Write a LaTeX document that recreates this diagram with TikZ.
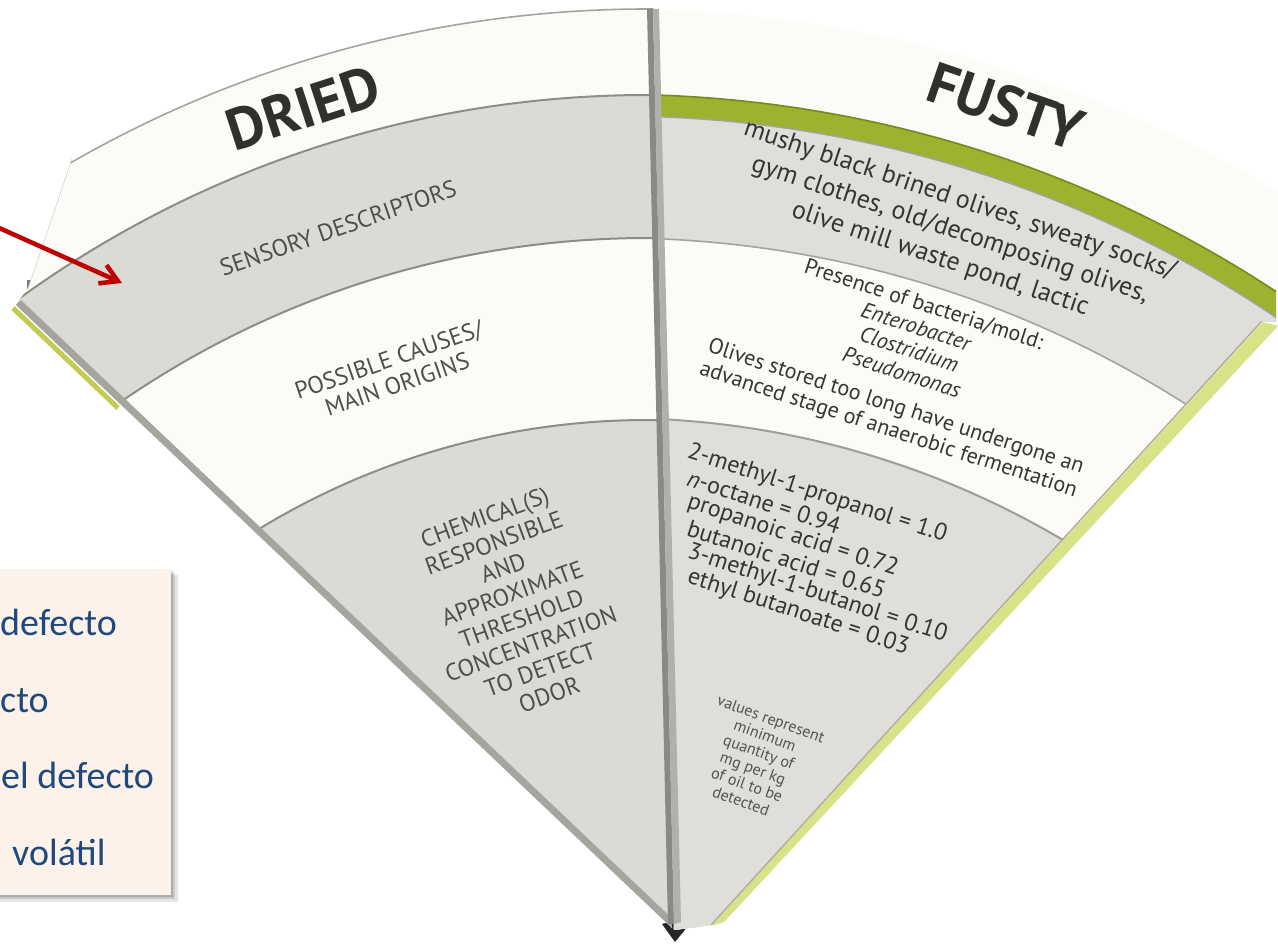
\documentclass[tikz,border=0pt]{standalone}
\usepackage{fontspec}
\setmainfont{PT Sans}
\newfontfamily\notefont{Carlito}
\usetikzlibrary{arrows.meta}

\definecolor{bandgray}{HTML}{DCDAD5}
\definecolor{bandgrayR}{HTML}{DFDEDA}
\definecolor{cardwhite}{HTML}{FCFBF8}
\definecolor{arcline}{HTML}{8E8C87}
\definecolor{arclineR}{HTML}{A5A39E}
\definecolor{olive}{HTML}{9DB22F}
\definecolor{olivedark}{HTML}{76891F}
\definecolor{lime}{HTML}{D8E387}
\definecolor{limeL}{HTML}{C3CB52}
\definecolor{edgegray}{HTML}{A6A49F}
\definecolor{divdark}{HTML}{8B8986}
\definecolor{divlight}{HTML}{B2B0AC}
\definecolor{inkL}{HTML}{4F4E4C}
\definecolor{inkR}{HTML}{363533}
\definecolor{notebg}{HTML}{FDF2EA}
\definecolor{noteink}{HTML}{1F497D}
\definecolor{pointer}{HTML}{C00000}

\tikzset{
  title/.style={text=inkR!90!black, font=\bfseries\fontsize{58}{60}\selectfont, inner sep=0pt},
  lbl/.style={text=inkL, font=\fontsize{24}{26}\selectfont, align=center, inner sep=0pt},
  desc/.style={text=inkR, font=\fontsize{26}{31}\selectfont, align=center, inner sep=0pt},
  cause/.style={text=inkR, font=\fontsize{22}{24}\selectfont, align=center, inner sep=0pt},
  chem/.style={text=inkR, font=\fontsize{24}{25}\selectfont, inner sep=0pt, anchor=west, rotate=-18},
  small/.style={text=inkR!85, font=\fontsize{16}{17.5}\selectfont, align=center, inner sep=0pt},
  notetext/.style={text=noteink, font=\notefont\fontsize{38}{40}\selectfont, inner sep=0pt, anchor=base west},
  pointerarrow/.style={draw=pointer, line width=4.5pt, -{Straight Barb[length=17pt,width=20pt]}},
}

\begin{document}
\begin{tikzpicture}[x=1pt,y=-1pt]
\useasboundingbox (0,0) rectangle (1278,944);
\fill[white] (0,0) rectangle (1278,944);

% centres of the printed arcs of the two cards
\coordinate (LC) at (648,1168);
\coordinate (RC) at (616,1297);

% cards lying underneath
\fill[divdark!90!black] (27,280) rectangle (38,297);
\draw[limeL, line width=5pt] (13,308) -- (118,408);
\fill[lime] (1263,322) -- (1278,326) -- (724,922) -- (711,926) -- cycle;
\fill[black!85] (662,924) -- (697,915) -- (675,942) -- cycle;

% left card
\begin{scope}
  \clip (672,928) -- (16,305) -- (28,288) -- (72,158) -- (72,-5) -- (653,-5) -- cycle;
  \fill[cardwhite] (LC) circle[radius=1159pt];
  \fill[bandgray] (LC) circle[radius=1073pt];
  \fill[cardwhite] (LC) circle[radius=930pt];
  \fill[bandgray] (LC) circle[radius=748pt];
  \draw[arcline!80, line width=1.6pt] (LC) circle[radius=1159pt];
  \draw[arcline, line width=2pt] (LC) circle[radius=1073pt];
  \draw[arcline, line width=2pt] (LC) circle[radius=930pt];
  \draw[arcline, line width=2pt] (LC) circle[radius=748pt];
  \draw[edgegray, line width=14pt] (16,305) -- (672,928);
  \draw[cardwhite!60!arcline, line width=1pt] (28,288) -- (72,158);
\end{scope}

% right card
\begin{scope}
  \clip (653,-5) -- (1290,-5) -- (1290,282) -- (1276,288) -- (1276,322)
        -- (1262,322) -- (712,925) -- (674,930) -- cycle;
  \fill[cardwhite] (RC) circle[radius=1288pt];
  \fill[olive] (RC) circle[radius=1202.6pt];
  \fill[bandgrayR] (RC) circle[radius=1181pt];
  \fill[cardwhite] (RC) circle[radius=1059pt];
  \fill[bandgrayR] (RC) circle[radius=879pt];
  \draw[olivedark, line width=1.6pt] (RC) circle[radius=1202.6pt];
  \draw[arclineR, line width=1.5pt] (RC) circle[radius=1181pt];
  \draw[arclineR, line width=1.6pt] (RC) circle[radius=1059pt];
  \draw[arcline!85, line width=2pt] (RC) circle[radius=879pt];
  \draw[edgegray!80!lime, line width=3pt] (1262,322) -- (712,925);
\end{scope}

% divider between the cards
\fill[divdark] (647,9) -- (653,9) -- (674,924) -- (668,924) -- cycle;
\fill[divlight] (653,9) -- (659,9) -- (681,922) -- (674,924) -- cycle;

% left card texts
\node[title, rotate=18] (dried) at (303,108) {DRIED};
\node[lbl, rotate=19] (sens) at (338,228) {SENSORY DESCRIPTORS};
\node[lbl, rotate=19] (causes) at (393,372) {POSSIBLE CAUSES/\\MAIN ORIGINS};
\node[lbl, rotate=20, font=\fontsize{24}{27}\selectfont] (chems) at (517,606)
  {CHEMICAL(S)\\RESPONSIBLE\\AND\\APPROXIMATE\\THRESHOLD\\CONCENTRATION\\TO DETECT\\ODOR};

% right card texts
\node[title, rotate=-19] (fusty) at (1006,106) {FUSTY};
\node[desc, rotate=-18.5] (smell) at (950,230)
  {mushy black brined olives, sweaty socks/\\gym clothes, old/decomposing olives,\\olive mill waste pond, lactic};
\node[cause, rotate=-18] (bact) at (913,338)
  {Presence of bacteria/mold:\\\textit{Enterobacter}\\\textit{Clostridium}\\\textit{Pseudomonas}};
\node[cause, rotate=-18] (stored) at (892,419)
  {Olives stored too long have undergone an\\advanced stage of anaerobic fermentation};
\node[chem] (c1) at (688,452) {2-methyl-1-propanol = 1.0};
\node[chem] (c2) at (688,477) {\textit{n}-octane = 0.94};
\node[chem] (c3) at (688,502) {propanoic acid = 0.72};
\node[chem] (c4) at (688,527) {butanoic acid = 0.65};
\node[chem] (c5) at (688,552) {3-methyl-1-butanol = 0.10};
\node[chem] (c6) at (688,577) {ethyl butanoate = 0.03};
\node[small, rotate=-20] (units) at (756,760)
  {values represent\\minimum\\quantity of\\mg per kg\\of oil to be\\detected};

% note box at the left border
\fill[black, opacity=0.10] (-20,575) rectangle (178,902);
\fill[black, opacity=0.12] (-20,573) rectangle (175,899);
\fill[black, opacity=0.14] (-20,571) rectangle (173,897);
\fill[notebg] (-20,569) rectangle (171,895);
\node[notetext] (n1) at (0,635) {defecto};
\node[notetext] (n2) at (0,712) {cto};
\node[notetext] (n3) at (1,788) {el defecto};
\node[notetext] (n4) at (12,865) {volátil};

% red pointer
\coordinate (ptrtail) at (-3,227);
\coordinate (ptrhead) at (122,283);
\draw[pointerarrow] (ptrtail) -- (ptrhead);
\end{tikzpicture}
\end{document}
